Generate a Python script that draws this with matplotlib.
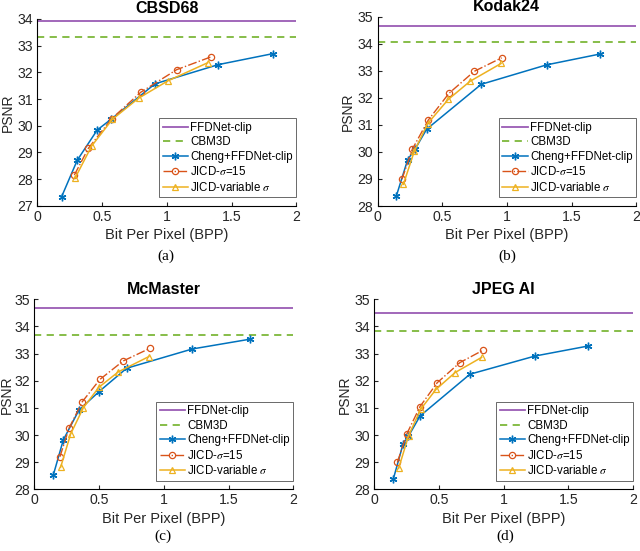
import matplotlib
matplotlib.use('Agg')
from matplotlib import pyplot as plt

plt.rcParams.update({
    'font.family': ['Liberation Sans', 'DejaVu Sans'],
    'font.size': 10.5,
    'mathtext.fontset': 'stix',
    'xtick.direction': 'in',
    'ytick.direction': 'in',
    'xtick.major.size': 3,
    'ytick.major.size': 3,
    'axes.linewidth': 0.8,
})

# dataset names / captions
titles = ['CBSD68', 'Kodak24', 'McMaster', 'JPEG AI']
captions = ['(a)', '(b)', '(c)', '(d)']
ylims = [(27, 34), (28, 35), (28, 35), (28, 35)]

# flat reference lines
ffdnet_psnr = [33.93, 34.64, 34.67, 34.48]
cbm3d_psnr = [33.32, 34.08, 33.67, 33.83]

# Cheng+FFDNet-clip
cheng_bpp = [
    [0.188, 0.309, 0.463, 0.572, 0.909, 1.398, 1.818],
    [0.145, 0.233, 0.290, 0.380, 0.802, 1.308, 1.720],
    [0.147, 0.224, 0.345, 0.500, 0.713, 1.220, 1.665],
    [0.149, 0.225, 0.265, 0.355, 0.740, 1.242, 1.653],
]
cheng_psnr = [
    [27.34, 28.71, 29.84, 30.25, 31.57, 32.29, 32.70],
    [28.36, 29.71, 30.10, 30.84, 32.50, 33.22, 33.62],
    [28.53, 29.82, 30.92, 31.60, 32.46, 33.17, 33.53],
    [28.38, 29.68, 29.95, 30.70, 32.24, 32.91, 33.28],
]

# JICD-sigma=15
jicd15_bpp = [
    [0.286, 0.394, 0.574, 0.798, 1.076, 1.341],
    [0.189, 0.269, 0.393, 0.553, 0.748, 0.960],
    [0.198, 0.268, 0.371, 0.507, 0.687, 0.891],
    [0.180, 0.252, 0.355, 0.488, 0.663, 0.843],
]
jicd15_psnr = [
    [28.15, 29.15, 30.26, 31.25, 32.10, 32.58],
    [28.99, 30.10, 31.18, 32.17, 32.98, 33.48],
    [29.20, 30.25, 31.23, 32.05, 32.73, 33.19],
    [28.99, 30.03, 31.05, 31.93, 32.67, 33.13],
]

# JICD-variable sigma
jicdvar_bpp = [
    [0.291, 0.420, 0.580, 0.782, 1.008, 1.316],
    [0.200, 0.285, 0.388, 0.547, 0.715, 0.955],
    [0.203, 0.281, 0.378, 0.499, 0.650, 0.885],
    [0.190, 0.267, 0.360, 0.478, 0.625, 0.830],
]
jicdvar_psnr = [
    [28.03, 29.24, 30.24, 31.03, 31.68, 32.36],
    [28.80, 30.03, 31.05, 31.94, 32.61, 33.27],
    [28.81, 30.04, 31.00, 31.76, 32.33, 32.89],
    [28.77, 29.98, 30.95, 31.68, 32.30, 32.86],
]

c_purple = '#9A5CB4'
c_green = '#7DB83A'
c_blue = '#0072BD'
c_red = '#D95319'
c_yellow = '#EDB120'

W, H = 640, 551
fig = plt.figure(figsize=(6.4, 5.51), dpi=100)

# axes rects in pixels: left, top, right, bottom
rects = [
    (37.3, 19.0, 296.3, 205.7),
    (377.5, 16.7, 636.2, 206.0),
    (34.3, 299.3, 293.3, 489.3),
    (374.0, 299.3, 633.3, 489.3),
]
ylabel_x = [14.5, 355, 13.5, 352]
caption_xy = [(166, 256), (507, 256), (163, 536), (505, 536)]

for i in range(4):
    l, t, r, b = rects[i]
    ax = fig.add_axes([l / W, 1 - b / H, (r - l) / W, (b - t) / H])

    ax.axhline(ffdnet_psnr[i], color=c_purple, lw=1.3, label='FFDNet-clip')
    ax.axhline(cbm3d_psnr[i], color=c_green, lw=1.3, ls=(0, (4, 3)), label='CBM3D')
    ax.plot(cheng_bpp[i], cheng_psnr[i], color=c_blue, lw=1.1, marker=(6, 2, 0),
            ms=5.5, mew=1.0, label='Cheng+FFDNet-clip')
    ax.plot(jicd15_bpp[i], jicd15_psnr[i], color=c_red, lw=1.0, ls='-.',
            marker='o', ms=4.5, mfc='none', mew=0.9, label=r'JICD-$\sigma$=15')
    ax.plot(jicdvar_bpp[i], jicdvar_psnr[i], color=c_yellow, lw=1.1,
            marker='^', ms=5, mfc='none', mew=0.9, label=r'JICD-variable $\sigma$')

    lo, hi = ylims[i]
    ax.set_xlim(0, 2)
    ax.set_ylim(lo, hi)
    ax.set_xticks([0, 0.5, 1, 1.5, 2])
    ax.set_xticklabels(['0', '0.5', '1', '1.5', '2'])
    ax.set_yticks(list(range(lo, hi + 1)))
    ax.spines['top'].set_visible(False)
    ax.spines['right'].set_visible(False)
    ax.tick_params(colors='#262626', labelsize=10.2, pad=3)

    ax.set_title(titles[i], fontsize=11.5, fontweight='bold', pad=4)
    ax.set_xlabel('Bit Per Pixel (BPP)', fontsize=10.5, color='#262626', labelpad=3)
    ax.set_ylabel('PSNR', fontsize=10, color='#262626')
    ax.yaxis.set_label_coords((ylabel_x[i] - l) / (r - l), 0.5)

    leg = ax.legend(loc='lower right', bbox_to_anchor=(1.0, 0.045), fontsize=8.3,
                    frameon=True, fancybox=False, borderaxespad=0,
                    handlelength=2.2, handletextpad=0.2, labelspacing=0.22,
                    borderpad=0.3)
    leg.get_frame().set_edgecolor('#262626')
    leg.get_frame().set_linewidth(0.6)

    fig.text(caption_xy[i][0] / W, 1 - caption_xy[i][1] / H, captions[i],
             ha='center', va='center', fontsize=11,
             family=['Liberation Serif', 'DejaVu Serif'])

fig.savefig('out.png', dpi=100)
